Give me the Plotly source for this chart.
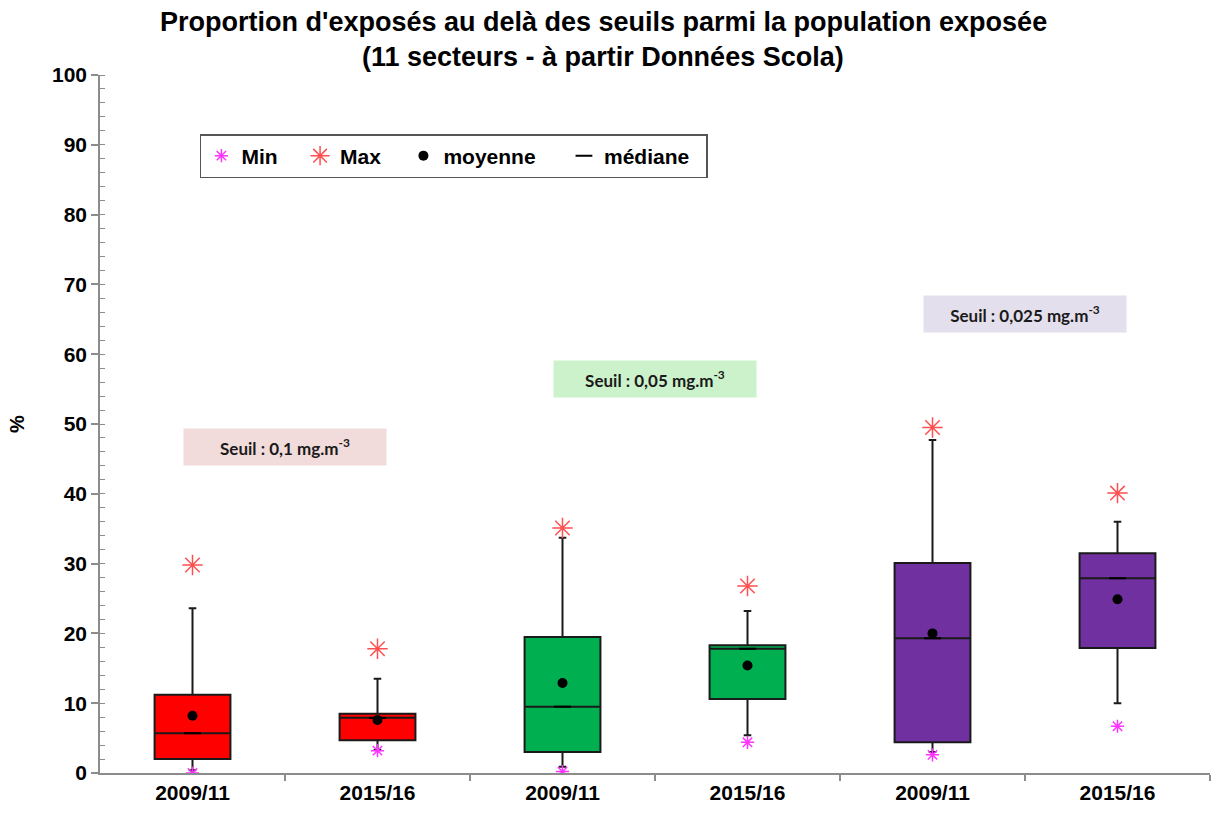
import plotly.graph_objects as go

# Periods and exposure statistics (% of exposed population above threshold)
periods = ["2009/11", "2015/16", "2009/11", "2015/16", "2009/11", "2015/16"]
q1 = [2.0, 4.7, 3.0, 10.6, 4.4, 17.9]
median = [5.7, 7.9, 9.5, 17.8, 19.3, 27.9]
q3 = [11.2, 8.5, 19.5, 18.3, 30.1, 31.5]
whisker_low = [0.4, 3.3, 0.9, 5.4, 3.0, 10.0]
whisker_high = [23.6, 13.5, 33.7, 23.2, 47.7, 36.0]
minimum = [0.0, 3.2, 0.2, 4.4, 2.6, 6.7]
maximum = [29.8, 17.8, 35.1, 26.8, 49.5, 40.1]
mean = [8.2, 7.6, 12.9, 15.4, 20.0, 24.9]

thresholds = ["Seuil : 0,1 mg.m<sup>-3</sup>", "Seuil : 0,05 mg.m<sup>-3</sup>",
              "Seuil : 0,025 mg.m<sup>-3</sup>"]
threshold_y = [46.7, 56.5, 65.7]
group_colors = ["#FF0000", "#00B050", "#7030A0"]
label_bg = ["#F2DCDB", "#CCF2CC", "#E4DFEC"]

title_lines = ["Proportion d'exposés au delà des seuils parmi la population exposée",
               "(11 secteurs - à partir Données Scola)"]

xs = list(range(len(periods)))
font_main = "Liberation Sans, Arial, sans-serif"

W, H = 1211, 813
M_L, M_R, M_T, M_B = 100, 1, 75, 40
plot_h = H - M_T - M_B
plot_w = W - M_L - M_R


def paper_y(px):
    """Convert a pixel row (from the top of the page) into paper units."""
    return (H - M_B - px) / plot_h


def paper_x(px):
    """Convert a pixel column (from the left of the page) into paper units."""
    return (px - M_L) / plot_w


fig = go.Figure()

for g in range(3):
    idx = [2 * g, 2 * g + 1]
    fig.add_trace(go.Box(
        x=[xs[i] for i in idx],
        q1=[q1[i] for i in idx],
        median=[median[i] for i in idx],
        q3=[q3[i] for i in idx],
        lowerfence=[whisker_low[i] for i in idx],
        upperfence=[whisker_high[i] for i in idx],
        fillcolor=group_colors[g],
        line=dict(color="#1a1a1a", width=2),
        width=0.41,
        whiskerwidth=0.1,
        showlegend=False,
        hoverinfo="skip",
    ))

fig.add_trace(go.Scatter(
    x=xs, y=minimum, mode="markers", name="Min   ",
    marker=dict(symbol="asterisk-open", size=11, color="#FF33FF",
                line=dict(color="#FF33FF", width=1.5)),
))
fig.add_trace(go.Scatter(
    x=xs, y=maximum, mode="markers", name="Max   ",
    marker=dict(symbol="asterisk-open", size=17, color="#FF5050",
                line=dict(color="#FF5050", width=1.5)),
))
fig.add_trace(go.Scatter(
    x=xs, y=mean, mode="markers", name="moyenne    ",
    marker=dict(symbol="circle", size=10, color="black"),
))
fig.add_trace(go.Scatter(
    x=xs, y=median, mode="markers", name="médiane  ",
    marker=dict(symbol="line-ew-open", size=12, color="black",
                line=dict(color="black", width=2)),
))

# Threshold labels above each pair of boxes
for g in range(3):
    fig.add_annotation(
        x=2 * g + 0.5, y=threshold_y[g], xref="x", yref="y",
        text=thresholds[g], showarrow=False,
        font=dict(family="Lato, Open Sans, sans-serif", size=17, color="#1a1a1a",
                  weight="bold"),
        bgcolor=label_bg[g], width=200, height=34,
        xanchor="center", yanchor="middle",
    )

# Two-line title
for line, ypx in zip(title_lines, [22, 57]):
    fig.add_annotation(
        x=paper_x(603), y=paper_y(ypx), xref="paper", yref="paper",
        xanchor="center", yanchor="middle", showarrow=False, text=line,
        font=dict(family=font_main, size=27, color="black", weight="bold"),
    )

fig.update_layout(
    width=W, height=H,
    margin=dict(l=M_L, r=M_R, t=M_T, b=M_B),
    paper_bgcolor="white", plot_bgcolor="white",
    font=dict(family=font_main, color="black"),
    legend=dict(
        orientation="h", x=0.09, y=paper_y(134), xanchor="left", yanchor="top",
        bordercolor="#555555", borderwidth=1.5, bgcolor="white",
        font=dict(size=21, weight="bold"),
    ),
    xaxis=dict(
        range=[-0.5, 5.5], tickvals=xs, ticktext=periods,
        showgrid=False, zeroline=False,
        showline=True, linecolor="#8c8c8c", linewidth=1.5,
        ticks="", tickfont=dict(size=21, weight="bold"),
        minor=dict(tickvals=[0.5, 1.5, 2.5, 3.5, 4.5, 5.5], ticks="outside",
                   ticklen=6, tickcolor="#8c8c8c", tickwidth=1.5),
    ),
    yaxis=dict(
        range=[0, 100], dtick=10, showgrid=False, zeroline=False,
        showline=True, linecolor="#8c8c8c", linewidth=1.5,
        ticks="outside", ticklen=7, tickcolor="#8c8c8c", tickwidth=1.5,
        tickfont=dict(size=21, weight="bold"),
        minor=dict(dtick=2, ticks="inside", ticklen=5, tickcolor="#8c8c8c",
                   tickwidth=1, showgrid=False),
        title=dict(text="%", font=dict(size=20, weight="bold"), standoff=22),
    ),
)

fig.write_html("out.html")
